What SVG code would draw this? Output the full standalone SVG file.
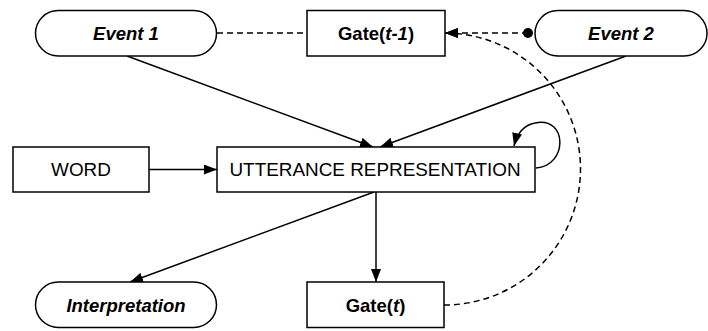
<svg xmlns="http://www.w3.org/2000/svg" width="708" height="331" viewBox="0 0 708 331">
  <style>
    .shape { fill: #fff; stroke: #000; stroke-width: 1.5; }
    .label { font-family: "Liberation Sans", Arial, sans-serif; font-size: 18.5px; fill: #000; text-anchor: middle; }
    .plain { font-size: 18.9px; }
    .event { font-weight: bold; font-style: italic; }
    .gate { font-weight: bold; }
    .it { font-style: italic; }
    .link { fill: none; stroke: #000; stroke-width: 1.5; }
    .dash { stroke-dasharray: 6 4; }
  </style>
  <defs>
    <marker id="arrow" viewBox="0 0 13 10" refX="13" refY="5" markerWidth="13" markerHeight="10" markerUnits="userSpaceOnUse" orient="auto">
      <path d="M0,0 L13,5 L0,10 z" fill="#000"/>
    </marker>
    <marker id="dot" viewBox="0 0 10 10" refX="5" refY="5" markerWidth="10" markerHeight="10" markerUnits="userSpaceOnUse">
      <circle cx="5" cy="5" r="5" fill="#000"/>
    </marker>
  </defs>

  <!-- connectors -->
  <g id="connectors">
    <line class="link dash" x1="217" y1="33" x2="307" y2="33"/>
    <line class="link dash" x1="528" y1="33" x2="445" y2="33" marker-start="url(#dot)" marker-end="url(#arrow)"/>
    <path class="link dash" d="M444,305 A136,136 0 0 0 445,33" marker-end="url(#arrow)"/>
    <line class="link" x1="127" y1="56" x2="373" y2="147" marker-end="url(#arrow)"/>
    <line class="link" x1="626" y1="56" x2="380" y2="147" marker-end="url(#arrow)"/>
    <line class="link" x1="149" y1="169.5" x2="217" y2="169.5" marker-end="url(#arrow)"/>
    <path class="link" d="M536,168 C568,166 568,116 535,123 C524,125 517,134 514,146" marker-end="url(#arrow)"/>
    <line class="link" x1="376" y1="192" x2="376" y2="282" marker-end="url(#arrow)"/>
    <line class="link" x1="374" y1="192" x2="130" y2="282" marker-end="url(#arrow)"/>
  </g>

  <g id="event1">
    <rect class="shape" x="35.5" y="10.5" width="181" height="45.5" rx="22.75"/>
    <text class="label event" x="126" y="40">Event 1</text>
  </g>

  <g id="gate-prev">
    <rect class="shape" x="307" y="10.5" width="138" height="45.5"/>
    <text class="label gate" x="376" y="40">Gate(<tspan class="it">t-1</tspan>)</text>
  </g>

  <g id="event2">
    <rect class="shape" x="535" y="10.5" width="172" height="45.5" rx="22.75"/>
    <text class="label event" x="621" y="40">Event 2</text>
  </g>

  <g id="word">
    <rect class="shape" x="13" y="147" width="136" height="45"/>
    <text class="label plain" x="81" y="176">WORD</text>
  </g>

  <g id="utterance">
    <rect class="shape" x="217" y="147" width="318" height="45"/>
    <text class="label plain" x="375" y="176">UTTERANCE REPRESENTATION</text>
  </g>

  <g id="interpretation">
    <rect class="shape" x="35.5" y="282" width="181" height="45.5" rx="22.75"/>
    <text class="label event" x="126" y="311.5">Interpretation</text>
  </g>

  <g id="gate-now">
    <rect class="shape" x="307" y="282" width="137" height="45.5"/>
    <text class="label gate" x="375.5" y="311.5">Gate(<tspan class="it">t</tspan>)</text>
  </g>
</svg>
